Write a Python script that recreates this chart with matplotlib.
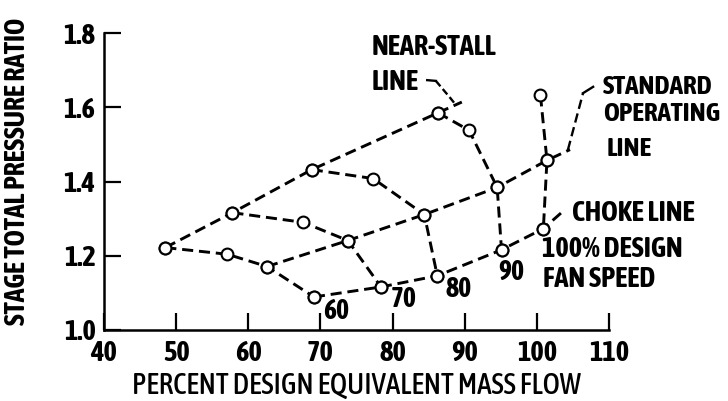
import matplotlib
matplotlib.use("Agg")
import matplotlib.pyplot as plt
from matplotlib import font_manager

# narrow face if one is installed (the scan uses a condensed lettering);
# prefer a family that also has a bold weight
weights = {}
for f in font_manager.fontManager.ttflist:
    if 'Narrow' in f.name or 'Condensed' in f.name:
        w = f.weight if isinstance(f.weight, int) else 700 if 'bold' in str(f.weight) else 400
        weights.setdefault(f.name, set()).add(w)
bold_narrow = sorted(n for n, ws in weights.items() if max(ws) >= 600)
if bold_narrow:
    plt.rcParams['font.family'] = [bold_narrow[0], 'DejaVu Sans']
elif weights:
    plt.rcParams['font.family'] = [sorted(weights)[0], 'DejaVu Sans']
else:
    plt.rcParams['font.family'] = ['DejaVu Sans']
    plt.rcParams['font.stretch'] = 'condensed'

# data (percent design flow, pressure ratio)
speed_60_x = [48.5, 57.1, 62.6, 69.1]
speed_60_y = [1.222, 1.204, 1.171, 1.089]
speed_70_x = [57.8, 67.6, 73.8, 78.4]
speed_70_y = [1.316, 1.290, 1.241, 1.116]
speed_80_x = [68.8, 77.3, 84.4, 86.2]
speed_80_y = [1.432, 1.408, 1.311, 1.146]
speed_90_x = [86.3, 90.6, 94.5, 95.1]
speed_90_y = [1.585, 1.538, 1.384, 1.216]
speed_100_x = [100.5, 101.4, 100.9]
speed_100_y = [1.632, 1.457, 1.273]

stall_x = [48.5, 57.8, 68.8, 86.3, 89.6]
stall_y = [1.222, 1.316, 1.432, 1.585, 1.614]
oper_x = [62.6, 73.8, 84.4, 94.5, 101.4, 104.6]
oper_y = [1.171, 1.241, 1.311, 1.384, 1.457, 1.486]
choke_x = [69.1, 78.4, 86.2, 95.1, 100.9, 103.4]
choke_y = [1.089, 1.116, 1.146, 1.216, 1.273, 1.316]

xticks = [40, 50, 60, 70, 80, 90, 100, 110]
yticks = [1.0, 1.2, 1.4, 1.6, 1.8]
speed_labels = ['60', '70', '80', '90']
speed_label_x = [72.2, 81.5, 89.1, 96.4]
speed_label_y = [1.051, 1.081, 1.108, 1.156]

fig = plt.figure(figsize=(7.28, 4.01), dpi=100)
ax = fig.add_axes([104 / 728, 1 - 330 / 401, 505 / 728, 297 / 401])

dash = dict(color='black', lw=2.1, dashes=(3.8, 2.0), solid_capstyle='butt',
            dash_capstyle='butt')
mk = dict(marker='o', ms=8.5, mfc='white', mec='black', mew=1.5, ls='none', zorder=5)

# reference lines (last point is just the line extension, no marker)
for xs, ys in [(stall_x, stall_y), (oper_x, oper_y), (choke_x, choke_y)]:
    ax.plot(xs, ys, **dash)
    ax.plot(xs[:-1], ys[:-1], **mk)

for xs, ys in [(speed_60_x, speed_60_y), (speed_70_x, speed_70_y),
               (speed_80_x, speed_80_y), (speed_90_x, speed_90_y),
               (speed_100_x, speed_100_y)]:
    ax.plot(xs, ys, **dash)
    ax.plot(xs, ys, **mk)

for lab, x, y in zip(speed_labels, speed_label_x, speed_label_y):
    ax.text(x, y, lab, fontsize=20, fontweight='bold', ha='center', va='center')

# leaders
ax.plot([84.8, 86.0], [1.673, 1.671], color='black', lw=1.7, clip_on=False)
ax.plot([86.0, 87.0, 88.0, 88.7], [1.671, 1.648, 1.625, 1.608], color='black',
        lw=1.7, dashes=(3, 1.5), clip_on=False)
ax.plot([104.3, 106.4], [1.485, 1.638], color='black', lw=1.7, dashes=(4, 2),
        clip_on=False)
ax.plot([106.4, 107.8], [1.638, 1.655], color='black', lw=1.7, clip_on=False)

tkw = dict(fontsize=20.5, fontweight='bold', ha='left', va='center', clip_on=False)
ax.text(77.15, 1.760, 'NEAR-STALL', **tkw)
ax.text(77.15, 1.668, 'LINE', **tkw)
rkw = dict(tkw, fontsize=19.5)
ax.text(109.2, 1.657, 'STANDARD', **rkw)
ax.text(109.2, 1.582, 'OPERATING', **rkw)
ax.text(109.7, 1.490, 'LINE', **rkw)
ax.text(104.9, 1.315, 'CHOKE LINE', **tkw)
ax.text(100.7, 1.218, '100% DESIGN', **tkw)
ax.text(100.85, 1.135, 'FAN SPEED', **tkw)

ax.set_xlim(40, 110)
ax.set_ylim(1.0, 1.8)
ax.set_xticks(xticks)
ax.set_xticklabels([str(t) for t in xticks], fontsize=20.5, fontweight='bold')
ax.set_yticks(yticks)
ax.set_yticklabels([f'{t:.1f}' for t in yticks], fontsize=20.5, fontweight='bold')
ax.tick_params(direction='in', length=12, width=1.6)
ax.tick_params(axis='x', pad=7)
ax.tick_params(axis='y', pad=6)
for s in ['top', 'right']:
    ax.spines[s].set_visible(False)
for s in ['left', 'bottom']:
    ax.spines[s].set_linewidth(1.8)

fig.text(356 / 728, 1 - 385 / 401, 'PERCENT DESIGN EQUIVALENT MASS FLOW',
         fontsize=21, fontweight='medium', ha='center', va='center')
fig.text(18 / 728, 1 - 171 / 401, 'STAGE TOTAL PRESSURE RATIO', fontsize=20,
         fontweight='bold', rotation=90, ha='center', va='center')

fig.savefig('out.png', dpi=100, facecolor='white')
